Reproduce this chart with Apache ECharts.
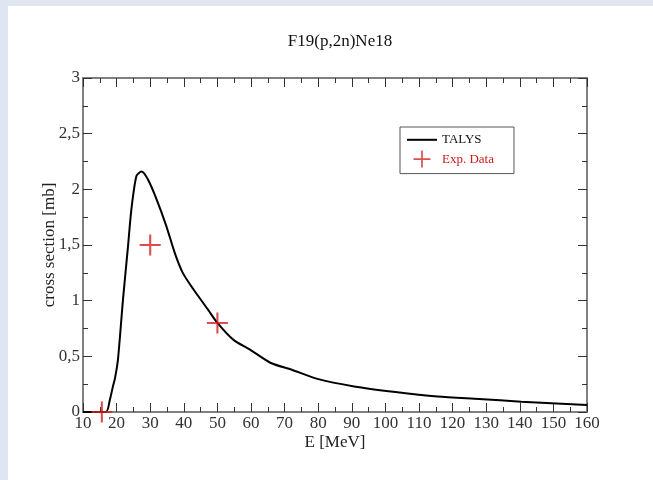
<!DOCTYPE html>
<html>
<head>
<meta charset="utf-8">
<script src="https://cdn.jsdelivr.net/npm/echarts@6/dist/echarts.min.js"></script>
<style>
html,body{margin:0;padding:0;background:#fff;}
#c{width:653px;height:480px;}
</style>
</head>
<body>
<div id="c"></div>
<script>
// Data
const energies = [10, 16.8, 18, 18.9, 19.5, 20.4, 21.9, 23.4, 24.4, 25.9, 27.4, 29.3, 31.9, 34.8, 37.3, 39.7, 42.9, 47.2, 50, 54.7, 59.7, 65.9, 72.1, 79.5, 90.7, 103, 115.5, 127.9, 140.4, 160];
const talys    = [0, 0, 0.11, 0.23, 0.30, 0.47, 1.01, 1.49, 1.82, 2.12, 2.16, 2.09, 1.91, 1.67, 1.43, 1.25, 1.10, 0.92, 0.80, 0.65, 0.56, 0.44, 0.38, 0.30, 0.23, 0.18, 0.14, 0.117, 0.093, 0.063];
const expE     = [15.6, 30, 50];
const expXS    = [0, 1.5, 0.8];
const xTicks   = [10, 20, 30, 40, 50, 60, 70, 80, 90, 100, 110, 120, 130, 140, 150, 160];
const yTicks   = [0, 0.5, 1, 1.5, 2, 2.5, 3];

const serif = '"Liberation Serif","DejaVu Serif",serif';
const axisCol = '#808080';
const tickCol = '#333';

function axisCommon(showLabels) {
  return {
    axisLine: {show: true, onZero: false, lineStyle: {color: axisCol, width: 2}},
    axisTick: {show: true, inside: true, length: 9, lineStyle: {color: tickCol, width: 1}},
    minorTick: {show: true, splitNumber: 2, length: 5, lineStyle: {color: tickCol, width: 1}},
    splitLine: {show: false},
    axisLabel: {show: showLabels, color: '#333', fontFamily: serif, fontSize: 17, margin: 3,
      formatter: v => String(v).replace('.', ',')}
  };
}

const chart = echarts.init(document.getElementById('c'), null, {renderer: 'canvas'});
chart.setOption({
  backgroundColor: '#ffffff',
  animation: false,
  title: {
    text: 'F19(p,2n)Ne18',
    left: 335, textAlign: 'center', top: 28,
    textStyle: {fontFamily: serif, fontSize: 17, fontWeight: 'normal', color: '#111'}
  },
  graphic: [
    {type: 'rect', shape: {x: 0, y: 0, width: 653, height: 6}, style: {fill: '#dfe6f2'}, silent: true},
    {type: 'rect', shape: {x: 0, y: 0, width: 8, height: 480}, style: {fill: '#dfe6f2'}, silent: true}
  ],
  legend: {
    orient: 'vertical',
    left: 400, top: 127,
    padding: [6, 20, 6, 6],
    itemGap: 4,
    itemWidth: 30, itemHeight: 17,
    borderColor: '#555', borderWidth: 1,
    backgroundColor: '#fff',
    textStyle: {fontFamily: serif, fontSize: 13},
    data: [
      {name: 'TALYS', textStyle: {color: '#111'}, itemStyle: {opacity: 0}},
      {name: 'Exp. Data', textStyle: {color: '#cc1a1a'}}
    ]
  },
  grid: {left: 83, right: 66, top: 78, bottom: 68, containLabel: false},
  xAxis: [
    Object.assign(axisCommon(true), {
      type: 'value', min: xTicks[0], max: xTicks[xTicks.length - 1], interval: 10,
      name: 'E [MeV]', nameLocation: 'middle', nameGap: 22, nameMoveOverlap: false,
      nameTextStyle: {fontFamily: serif, fontSize: 17, color: '#222'}
    }),
    Object.assign(axisCommon(false), {
      type: 'value', position: 'top', min: xTicks[0], max: xTicks[xTicks.length - 1], interval: 10
    })
  ],
  yAxis: [
    Object.assign(axisCommon(true), {
      type: 'value', min: yTicks[0], max: yTicks[yTicks.length - 1], interval: 0.5,
      name: 'cross section [mb]', nameLocation: 'middle', nameGap: 25, nameMoveOverlap: false,
      nameTextStyle: {fontFamily: serif, fontSize: 17, color: '#222'}
    }),
    Object.assign(axisCommon(false), {
      type: 'value', position: 'right', min: yTicks[0], max: yTicks[yTicks.length - 1], interval: 0.5
    })
  ],
  series: [
    {
      name: 'TALYS', type: 'line',
      data: energies.map((e, i) => [e, talys[i]]),
      showSymbol: false, symbol: 'none',
      smooth: 0.25,
      lineStyle: {color: '#000', width: 2},
      itemStyle: {color: '#000'},
      z: 3
    },
    {
      name: 'Exp. Data', type: 'scatter',
      data: expE.map((e, i) => [e, expXS[i]]),
      symbol: 'path://M9,0h2v20h-2zM0,9h20v2h-20z',
      symbolSize: 21,
      clip: false,
      itemStyle: {color: '#d42020'},
      z: 4
    }
  ]
});
</script>
</body>
</html>
